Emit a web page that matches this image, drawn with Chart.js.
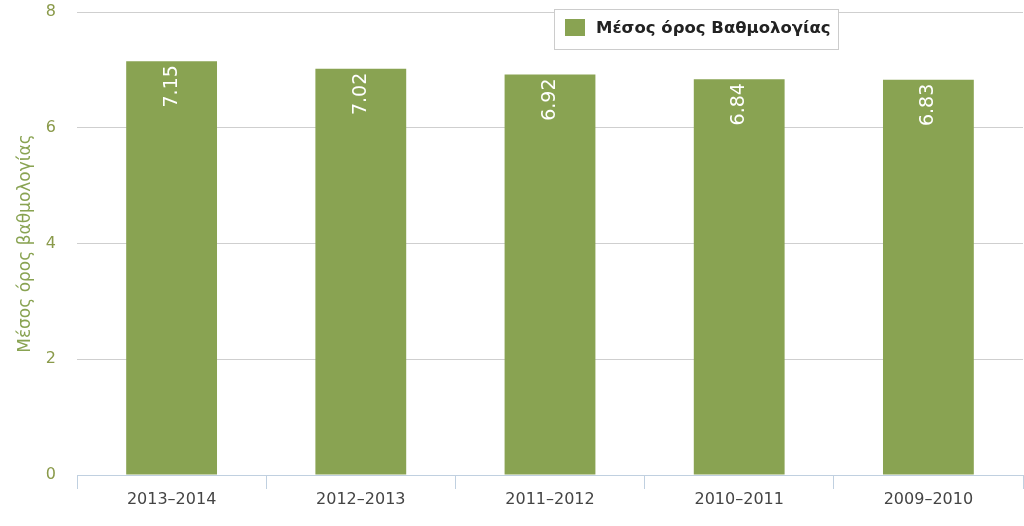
<!DOCTYPE html>
<html>
<head>
<meta charset="utf-8">
<script src="https://cdn.jsdelivr.net/npm/chart.js@4/dist/chart.umd.min.js"></script>
<style>
  html, body { margin: 0; padding: 0; background: #fff; }
  #wrap { width: 1024px; height: 526px; }
</style>
</head>
<body>
<div id="wrap"><canvas id="chart" width="1024" height="526"></canvas></div>
<script>
// data
var years = ["2013–2014", "2012–2013", "2011–2012", "2010–2011", "2009–2010"];
var avgGrade = [7.15, 7.02, 6.92, 6.84, 6.83];
var seriesName = "Μέσος όρος Βαθμολογίας";
var axisTitle = "Μέσος όρος βαθμολογίας";
var yTicks = [0, 2, 4, 6, 8];

var green = "rgb(137,163,82)";
var fontName = "'DejaVu Sans', sans-serif";

// white rotated value on top of each bar
var valueLabels = {
  id: "valueLabels",
  afterDatasetsDraw: function (chart) {
    var ctx = chart.ctx;
    var meta = chart.getDatasetMeta(0);
    ctx.save();
    ctx.fillStyle = "#fff";
    ctx.font = "19px " + fontName;
    ctx.textAlign = "right";
    ctx.textBaseline = "middle";
    meta.data.forEach(function (bar, i) {
      ctx.save();
      ctx.translate(bar.x, bar.y + 4);
      ctx.rotate(-Math.PI / 2);
      ctx.fillText(avgGrade[i].toFixed(2), 0, 0);
      ctx.restore();
    });
    ctx.restore();
  }
};

// boxed legend at top right
var boxLegend = {
  id: "boxLegend",
  afterDraw: function (chart) {
    var ctx = chart.ctx;
    ctx.save();
    ctx.fillStyle = "#fff";
    ctx.fillRect(554, 9, 284, 40);
    ctx.strokeStyle = "#cccccc";
    ctx.lineWidth = 1;
    ctx.strokeRect(554.5, 9.5, 284, 40);
    ctx.fillStyle = green;
    ctx.fillRect(565, 19, 20, 17);
    ctx.fillStyle = "#222";
    ctx.font = "bold 16.5px " + fontName;
    ctx.textAlign = "left";
    ctx.textBaseline = "middle";
    ctx.fillText(seriesName, 596, 29);
    ctx.restore();
  }
};

var c = document.getElementById("chart");
var ctx = c.getContext("2d");
var chart = new Chart(ctx, {
  type: "bar",
  data: {
    labels: years,
    datasets: [{
      label: seriesName,
      data: avgGrade,
      backgroundColor: green,
      borderWidth: 0,
      categoryPercentage: 1,
      barPercentage: 0.48
    }]
  },
  options: {
    responsive: false,
    animation: false,
    layout: { padding: { top: 12, right: 1, left: 0, bottom: 0 } },
    plugins: {
      legend: { display: false },
      tooltip: { enabled: false }
    },
    scales: {
      x: {
        offset: true,
        grid: {
          offset: true,
          drawOnChartArea: false,
          color: "#c0d0e0",
          tickLength: 14
        },
        border: { color: "#c0d0e0" },
        ticks: {
          color: "#444",
          font: { family: fontName, size: 16 },
          padding: 1,
          maxRotation: 0
        },
        afterFit: function (s) { s.height = 51; s.paddingLeft = 0; s.paddingRight = 0; }
      },
      y: {
        min: 0,
        max: 8,
        afterBuildTicks: function (s) {
          s.ticks = yTicks.map(function (v) { return { value: v }; });
        },
        grid: { color: "#cfcfcf", drawTicks: false },
        border: { display: false },
        ticks: {
          color: "#8a9a4a",
          font: { family: fontName, size: 16 },
          padding: 21
        },
        title: {
          display: true,
          text: axisTitle,
          color: green,
          font: { family: fontName, size: 17 },
          padding: { top: 15, bottom: 0 }
        },
        afterFit: function (s) { s.width = 77; s.paddingTop = 0; s.paddingBottom = 0; }
      }
    }
  },
  plugins: [valueLabels, boxLegend]
});
</script>
</body>
</html>
